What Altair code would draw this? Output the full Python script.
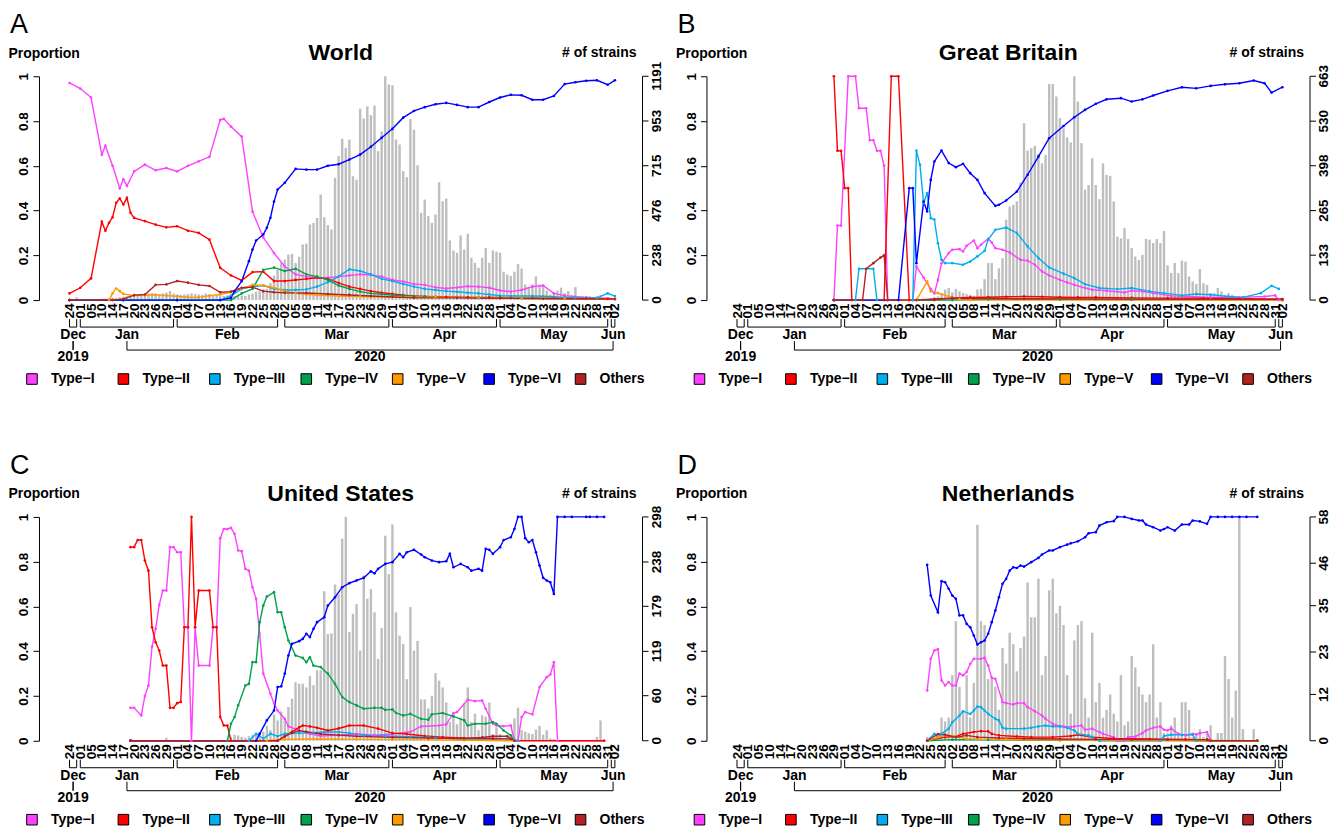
import altair as alt
import pandas as pd

# ---------------- categories, colours, axis labels ----------------
TYPES = ["Type\u2212I", "Type\u2212II", "Type\u2212III", "Type\u2212IV", "Type\u2212V", "Type\u2212VI", "Others"]
COLORS = ["#FF40FF", "#FF0000", "#00AEEF", "#00A14B", "#FF9900", "#0000FF", "#B22222"]
BAR_COLOR = "#BEBEBE"

TICK_IDX = list(range(0, 151, 3)) + [152]
TICK_LAB = ["24",
            "01", "05", "10", "14", "17", "20", "23", "26", "29",
            "01", "04", "07", "10", "13", "16", "19", "22", "25", "28",
            "02", "05", "08", "11", "14", "17", "20", "23", "26", "29",
            "01", "04", "07", "10", "13", "16", "19", "22", "25", "28",
            "01", "04", "07", "10", "13", "16", "19", "22", "25", "28", "31",
            "02"]
MONTHS = ["Dec", "Jan", "Feb", "Mar", "Apr", "May", "Jun"]
MONTH_FIRST = [0, 3, 30, 60, 90, 120, 151]
MONTH_LAST = [2, 29, 58, 89, 119, 150, 152]
YEARS = ["2019", "2020"]
YEAR_FIRST_MONTH = [0, 1]
YEAR_LAST_MONTH = [0, 6]

LETTERS = ["A", "B", "C", "D"]
TITLES = ["World", "Great Britain", "United States", "Netherlands"]
MAX_STRAINS = [1191, 663, 298, 58]

# ---------------- strain counts per day (bars) ----------------
A_BARS = [0, 0, 15, 3, 3, 4, 5, 5, 6, 8,
          8, 10, 12, 12, 15, 18, 20, 25, 30, 32,
          28, 30, 35, 38, 34, 30, 36, 40, 48, 35,
          30, 28, 30, 32, 36, 32, 30, 28, 35, 30,
          25, 28, 24, 22, 25, 20, 22, 20, 25, 22,
          30, 35, 45, 48, 55, 60, 90, 130, 160, 198,
          216, 242, 246, 198, 230, 296, 300, 402, 410, 437,
          562, 441, 399, 376, 650, 766, 858, 810, 854, 659,
          641, 1019, 966, 1031, 984, 1035, 792, 898, 1191, 1147,
          1143, 854, 828, 686, 654, 964, 907, 718, 464, 535,
          447, 411, 455, 627, 526, 540, 317, 264, 252, 344,
          269, 353, 225, 198, 172, 225, 278, 198, 264, 257,
          252, 151, 136, 128, 151, 193, 168, 83, 69, 83,
          126, 83, 74, 51, 30, 37, 51, 66, 37, 48,
          27, 69, 21, 21, 16, 21, 12, 16, 27, 12,
          9, 12, 7]
B_BARS = ([0] * 50 +
          [2, 3, 5, 4, 6, 8, 11, 21, 31, 36,
           23, 33, 26, 21, 18, 16, 13, 31, 33] +
          [62, 110, 110, 62, 94, 124, 238, 277, 282, 292, 348, 524, 443, 450, 457, 433, 405, 430,
           640, 640, 603, 539, 509, 482, 467, 663, 588, 465, 327, 341, 420, 341, 299, 405, 371, 368,
           292, 188, 183, 213, 181, 154, 129, 119, 134, 181, 179, 169, 181, 169, 205, 103, 80, 110,
           80, 117, 114, 70, 55, 48, 92, 50, 45, 21, 21, 36, 26, 16, 21, 16, 11, 8] +
          [5, 5, 8, 5, 3, 5, 3, 3, 2, 3, 2, 5])
C_BARS = [0, 0, 0, 0, 0, 0, 0, 0, 0, 0,
          0, 0, 0, 0, 0, 0, 0, 3, 0, 0,
          0, 0, 0, 0, 0, 0, 0, 4, 0, 0,
          0, 0, 0, 1, 0, 0, 0, 0, 1, 0,
          0, 0, 1, 0, 0, 5, 8, 7, 5, 4,
          6, 8, 10, 11, 12, 20, 14, 35, 27, 39,
          27, 45, 56, 78, 76, 76, 71, 86, 74, 94,
          94, 199, 142, 143, 208, 195, 269, 298, 145, 169,
          182, 120, 220, 189, 202, 171, 109, 150, 273, 222,
          288, 171, 140, 129, 82, 178, 120, 133, 55, 55,
          43, 60, 90, 80, 71, 51, 25, 36, 22, 31,
          50, 71, 25, 36, 14, 34, 32, 51, 9, 18,
          9, 3, 7, 5, 30, 44, 14, 12, 10, 9,
          15, 20, 8, 14, 3, 2, 1, 0, 1, 0,
          1, 0, 0, 1, 0, 0, 0, 5, 27, 0,
          0, 0, 0]
D_BARS = ([0] * 53 +
          [1, 0, 0, 2, 6, 5, 6,
           17, 31, 14, 8, 17, 6, 15, 56, 31, 30,
           16, 16, 14, 8, 24, 20, 28, 25, 18, 24,
           27, 41, 32, 32, 42, 17, 22, 39, 42, 33,
           35, 30, 17, 7, 26, 30, 31, 11, 6, 28,
           10, 15, 6, 8, 12, 7, 5, 17, 4, 5,
           22, 19, 14, 12, 10, 12, 25, 6, 10, 2,
           2, 4, 6, 2, 10, 10, 8, 1, 2, 3,
           1, 2, 4, 0, 2, 2, 22, 16, 6, 13,
           58, 3, 0, 0, 3, 0, 0, 0, 0, 0,
           0, 0, 0])

# ---------------- proportions: (day index, value) ----------------
A_T1 = [(0, .97), (3, .945), (6, .905), (9, .65), (10, .69), (12, .60), (14, .50), (15, .54), (16, .51),
        (18, .575), (21, .605), (24, .58), (27, .59), (30, .575), (33, .60), (36, .62), (39, .64),
        (42, .805), (43, .81), (45, .775), (48, .73), (51, .395), (54, .28), (57, .21), (60, .15),
        (63, .115), (66, .105), (69, .10), (72, .10), (75, .105), (78, .11), (81, .115), (84, .112),
        (87, .105), (90, .09), (93, .083), (96, .072), (99, .068), (102, .057), (105, .052), (108, .056),
        (111, .062), (114, .06), (117, .055), (120, .043), (123, .038), (126, .045), (129, .06),
        (132, .065), (135, .03), (138, .02), (141, .015), (144, .012), (147, .01), (150, .008), (152, .005)]
A_T2 = [(0, .03), (3, .055), (6, .097), (9, .35), (10, .31), (11, .345), (12, .37), (13, .435), (14, .454),
        (15, .427), (16, .457), (17, .39), (18, .367), (21, .353), (24, .337), (27, .325), (30, .33),
        (33, .31), (36, .30), (39, .27), (42, .144), (45, .11), (48, .088), (51, .125), (54, .127),
        (57, .085), (60, .085), (63, .09), (66, .095), (69, .10), (72, .095), (75, .077), (78, .06),
        (81, .05), (84, .04), (87, .033), (90, .028), (93, .022), (96, .018), (99, .016), (102, .015),
        (105, .014), (108, .013), (111, .012), (117, .012), (120, .012), (123, .01), (129, .01),
        (135, .01), (138, .008), (144, .006), (150, .005), (152, .005)]
A_T3 = [(0, 0), (15, 0), (30, 0), (42, 0), (45, .02), (48, .05), (51, .06), (54, .065), (57, .05),
        (60, .045), (63, .045), (66, .048), (69, .06), (72, .08), (75, .105), (78, .138), (81, .13),
        (84, .115), (87, .095), (90, .085), (93, .072), (96, .06), (99, .05), (102, .045), (105, .04),
        (108, .037), (111, .033), (114, .03), (117, .025), (120, .02), (123, .018), (129, .018),
        (132, .017), (135, .015), (138, .012), (141, .01), (147, .01), (150, .03), (152, .018)]
A_T4 = [(0, 0), (15, 0), (30, 0), (45, 0), (48, .03), (51, .05), (54, .135), (57, .145), (60, .13),
        (63, .14), (66, .115), (69, .105), (72, .09), (75, .065), (78, .05), (81, .038), (84, .03),
        (87, .026), (90, .022), (93, .019), (96, .017), (99, .015), (102, .013), (108, .012),
        (114, .011), (120, .01), (126, .009), (132, .008), (138, .007), (144, .006), (152, .005)]
A_T5 = [(0, 0), (11, 0), (12, .03), (13, .052), (14, .04), (15, .028), (18, .02), (21, .022), (24, .024),
        (27, .02), (30, .017), (33, .013), (36, .012), (39, .02), (42, .025), (45, .035), (48, .052),
        (51, .068), (54, .065), (57, .055), (60, .04), (63, .03), (66, .026), (69, .022), (72, .02),
        (75, .018), (78, .017), (81, .016), (84, .015), (90, .014), (102, .013), (108, .012),
        (114, .01), (126, .009), (132, .008), (138, .007), (144, .006), (152, .005)]
A_T6 = [(0, 0), (15, 0), (30, 0), (42, 0), (45, .01), (46, .04), (48, .085), (50, .174), (51, .226),
        (52, .266), (54, .293), (55, .323), (56, .368), (57, .44), (58, .494), (60, .524), (63, .586),
        (66, .583), (69, .583), (72, .60), (75, .607), (78, .628), (81, .65), (84, .685), (87, .725),
        (90, .765), (93, .815), (96, .845), (99, .862), (102, .875), (105, .881), (108, .872),
        (111, .862), (114, .862), (117, .885), (120, .905), (123, .917), (126, .915), (129, .895),
        (132, .895), (135, .912), (138, .965), (141, .973), (144, .98), (147, .982), (150, .962), (152, .982)]
A_T7 = [(0, 0), (12, 0), (15, .005), (18, .022), (21, .025), (24, .068), (27, .07), (30, .085), (33, .078),
        (36, .068), (39, .063), (42, .035), (45, .038), (48, .055), (51, .058), (54, .04), (57, .035),
        (60, .033), (66, .032), (72, .027), (78, .023), (84, .018), (90, .014), (96, .01), (108, .01),
        (120, .008), (132, .006), (144, .006), (152, .005)]

B_T1 = [(27, 0), (28, .333), (29, .333), (31, 1.0), (33, 1.0), (34, .857), (36, .857), (37, .714), (38, .714),
        (39, .667), (40, .667), (41, .6), (42, 0), (49, 0), (50, .15), (52, .10), (54, .05), (55, .03),
        (56, .09), (57, .165), (59, .21), (60, .225), (62, .228), (63, .217), (64, .243), (66, .266),
        (67, .232), (68, .247), (70, .274), (71, .257), (72, .232), (74, .225), (76, .213), (79, .18),
        (81, .176), (83, .158), (85, .128), (87, .11), (90, .09), (92, .079), (94, .068), (97, .054),
        (99, .046), (103, .042), (108, .034), (110, .042), (113, .039), (116, .031), (121, .019),
        (126, .016), (132, .012), (140, .012), (147, .016), (150, .021), (151, 0), (152, 0)]
B_T2 = [(27, 1.0), (28, .667), (29, .667), (30, .5), (31, .5), (32, 0), (41, 0), (43, 1.0), (45, 1.0),
        (48, 0), (55, 0), (60, .01), (65, .012), (70, .013), (75, .015), (80, .016), (85, .015),
        (90, .013), (95, .012), (100, .012), (110, .01), (120, .009), (130, .008), (140, .006), (152, .005)]
B_T3 = [(27, 0), (33, 0), (34, .14), (38, .14), (39, 0), (49, 0), (50, .668), (51, .604), (52, .433),
        (53, .478), (54, .366), (55, .36), (56, .254), (57, .18), (58, .165), (60, .165), (63, .158),
        (65, .172), (67, .195), (69, .22), (70, .27), (72, .314), (75, .324), (78, .3), (81, .24),
        (84, .1875), (87, .146), (91, .118), (94, .098), (97, .071), (101, .054), (106, .049),
        (110, .054), (115, .039), (119, .031), (124, .021), (128, .027), (132, .024), (137, .016),
        (141, .012), (146, .031), (149, .064), (151, .05)]
B_T4 = [(27, 0), (60, 0), (70, .003), (90, .003), (110, .002), (152, 0)]
B_T5 = [(27, 0), (50, 0), (53, .083), (54, .039), (56, .031), (59, .016), (62, .004), (65, 0), (152, 0)]
B_T6 = [(27, 0), (45, 0), (48, .5), (49, .5), (50, .165), (52, .44), (53, .396), (54, .537), (55, .619),
        (57, .668), (59, .612), (61, .594), (63, .609), (65, .567), (67, .537), (69, .478), (72, .421),
        (73, .426), (75, .445), (78, .485), (81, .56), (84, .641), (87, .723), (91, .778), (94, .817),
        (97, .85), (100, .877), (103, .897), (107, .902), (110, .887), (113, .897), (116, .914),
        (120, .935), (124, .951), (128, .946), (132, .957), (136, .964), (140, .969), (144, .981),
        (147, .969), (149, .927), (152, .951)]
B_T7 = [(27, 0), (35, 0), (36, .14), (38, .165), (40, .19), (41, .2), (42, 0), (50, 0), (55, .005),
        (60, .008), (80, .006), (100, .005), (152, .003)]

C_T1 = [(17, .147), (18, .147), (20, .113), (21, .2), (22, .247), (23, .42), (24, .5), (25, .607), (26, .671),
        (27, .671), (28, .865), (29, .865), (30, .842), (31, .842), (32, .507), (33, .507), (34, 0),
        (35, .507), (36, .336), (39, .336), (40, .507), (41, .507), (42, .905), (43, .946), (44, .946),
        (45, .951), (46, .924), (47, .85), (48, .847), (49, .768), (50, .76), (51, .686), (52, .634),
        (53, .478), (54, .3), (56, .21), (57, .165), (58, .135), (60, .098), (61, .064), (64, .046),
        (67, .031), (70, .021), (75, .025), (80, .03), (85, .025), (90, .03), (95, .04), (98, .064),
        (103, .068), (105, .073), (107, .124), (108, .128), (111, .183), (113, .177), (115, .18),
        (116, .143), (118, .076), (119, .068), (121, .065), (123, .068), (124, 0), (125, 0), (126, .106),
        (127, .128), (129, .118), (131, .24), (133, .284), (134, .296), (135, .351), (136, 0), (149, 0)]
C_T2 = [(17, .865), (18, .865), (19, .897), (20, .897), (21, .805), (22, .76), (23, .507), (24, .44),
        (25, .403), (26, .336), (27, .336), (28, .147), (29, .147), (30, .168), (31, .173), (32, .507),
        (33, .507), (34, 1.0), (35, .507), (36, .671), (39, .671), (40, .507), (41, .507), (42, .106),
        (43, .068), (44, .068), (45, 0), (58, 0), (60, .02), (62, .04), (64, .06), (65, .068), (67, .064),
        (69, .058), (72, .046), (75, .055), (78, .068), (82, .068), (86, .054), (90, .034), (94, .03),
        (99, .021), (104, .016), (110, .012), (118, .01), (123, .008), (124, 0), (149, 0)]
C_T3 = [(17, 0), (50, 0), (52, .031), (54, .01), (56, .031), (58, .02), (60, .031), (64, .034), (68, .036),
        (71, .039), (75, .039), (78, .034), (82, .024), (88, .021), (95, .018), (100, .016), (102, .013),
        (110, .006), (124, .004), (125, 0)]
C_T4 = [(17, 0), (44, 0), (45, .076), (46, .106), (47, .158), (49, .247), (50, .254), (51, .351), (52, .351),
        (53, .53), (54, .604), (55, .644), (57, .664), (58, .574), (59, .574), (60, .507), (61, .448),
        (63, .381), (65, .37), (66, .351), (67, .373), (68, .336), (70, .329), (72, .3), (74, .254),
        (76, .195), (78, .173), (80, .158), (82, .143), (85, .147), (87, .147), (88, .138), (90, .14),
        (91, .124), (93, .113), (95, .12), (98, .098), (100, .094), (101, .118), (104, .124), (107, .109),
        (110, .091), (111, .068), (113, .076), (116, .076), (118, .083), (119, .076), (121, .046),
        (123, .024), (124, 0)]
C_T5 = [(17, 0), (55, 0), (60, .006), (70, .008), (80, .006), (90, .005), (100, .004), (110, .002), (124, 0)]
C_T6 = [(17, 0), (52, 0), (53, .031), (55, .091), (57, .135), (58, .24), (59, .243), (60, .3), (61, .381),
        (62, .433), (64, .445), (65, .455), (66, .478), (67, .463), (68, .5), (69, .53), (71, .552),
        (72, .604), (74, .641), (76, .686), (78, .704), (80, .716), (82, .728), (84, .757), (85, .748),
        (86, .768), (88, .79), (90, .798), (92, .835), (93, .82), (94, .842), (96, .853), (98, .832),
        (99, .82), (101, .805), (103, .798), (105, .802), (106, .835), (107, .775), (109, .79), (111, .775),
        (112, .76), (114, .768), (115, .76), (116, .857), (117, .853), (118, .835), (120, .865), (121, .897),
        (123, .909), (124, .946), (125, 1.0), (126, 1.0), (127, .905), (128, .887), (129, .897), (130, .842),
        (131, .783), (132, .728), (133, .716), (134, .708), (135, .656), (136, 1.0), (138, 1.0), (140, 1.0),
        (144, 1.0), (145, 1.0), (147, 1.0), (149, 1.0)]
C_T7 = [(17, 0), (58, 0), (60, .02), (62, .035), (64, .045), (66, .04), (70, .03), (75, .025), (80, .02),
        (90, .015), (100, .012), (110, .01), (115, .015), (118, .02), (122, .02), (124, 0)]

D_T1 = [(53, .225), (54, .366), (55, .403), (56, .41), (57, .27), (58, .247), (59, .262), (60, .247), (61, .247),
        (62, .3), (63, .292), (64, .307), (65, .344), (66, .366), (68, .366), (69, .37), (70, .336), (71, .281),
        (72, .277), (74, .173), (75, .168), (77, .162), (78, .168), (80, .168), (81, .15), (83, .132),
        (85, .113), (86, .098), (88, .076), (89, .068), (91, .064), (93, .061), (94, .064), (96, .068),
        (97, .049), (99, .054), (101, .039), (102, .031), (105, .016), (106, 0), (108, 0), (109, .016),
        (111, .019), (113, .034), (114, .046), (116, .058), (118, .064), (119, .049), (120, .046),
        (121, .054), (123, .031), (125, .024), (127, .031), (128, .028), (129, .034), (131, .039),
        (132, 0), (145, 0)]
D_T2 = [(53, 0), (58, .016), (61, .019), (63, .031), (66, .039), (68, .043), (70, .042), (71, .031), (73, .024),
        (78, .019), (82, .016), (88, .016), (93, .021), (95, .027), (99, .016), (105, .01), (115, .008),
        (125, .006), (131, .005), (132, 0), (145, 0)]
D_T3 = [(53, 0), (55, .031), (56, .016), (57, .031), (59, .054), (60, .083), (62, .113), (63, .132), (65, .12),
        (66, .135), (67, .153), (68, .15), (69, .135), (70, .12), (72, .098), (73, .091), (74, .058),
        (75, .054), (80, .054), (82, .058), (84, .064), (86, .068), (88, .064), (90, .064), (92, .058),
        (94, .046), (95, .031), (98, .024), (99, .016), (101, 0), (118, 0), (119, .021), (121, .027),
        (124, .027), (127, .027), (128, 0), (145, 0)]
D_T4 = [(53, 0), (60, .005), (70, .004), (90, .002), (145, 0)]
D_T5 = [(53, 0), (56, .016), (58, .024), (61, .02), (64, .009), (68, .006), (75, .005), (90, .003),
        (110, .002), (132, 0), (145, 0)]
D_T6 = [(53, .786), (54, .649), (56, .574), (57, .713), (58, .708), (59, .679), (60, .649), (61, .634), (62, .56),
        (63, .56), (64, .522), (65, .507), (66, .47), (67, .43), (68, .44), (69, .448), (70, .478), (71, .53),
        (72, .582), (73, .641), (74, .701), (75, .723), (76, .76), (77, .775), (78, .772), (79, .783),
        (80, .778), (82, .798), (84, .817), (85, .832), (87, .85), (88, .85), (90, .865), (92, .876),
        (93, .882), (95, .891), (97, .909), (98, .927), (100, .932), (101, .961), (103, .976), (105, .981),
        (106, 1.0), (108, 1.0), (110, .991), (112, .984), (113, .984), (114, .966), (116, .954), (118, .939),
        (119, .946), (120, .954), (122, .939), (124, .966), (126, .966), (127, .984), (129, .98), (131, .969),
        (132, 1.0), (134, 1.0), (136, 1.0), (138, 1.0), (140, 1.0), (142, 1.0), (145, 1.0)]
D_T7 = [(53, 0), (56, .03), (58, .027), (61, .016), (64, .024), (67, .016), (73, .012), (80, .01), (90, .008),
        (100, .006), (110, .005), (120, .005), (131, .004), (132, 0), (145, 0)]

SERIES = [[A_T1, A_T2, A_T3, A_T4, A_T5, A_T6, A_T7],
          [B_T1, B_T2, B_T3, B_T4, B_T5, B_T6, B_T7],
          [C_T1, C_T2, C_T3, C_T4, C_T5, C_T6, C_T7],
          [D_T1, D_T2, D_T3, D_T4, D_T5, D_T6, D_T7]]
BARS = [A_BARS, B_BARS, C_BARS, D_BARS]

# ---------------- layout ----------------
W, H = 604, 224
XDOM = [-7.12, 158.31]
FONT = "Liberation Sans"

lab_expr = " : ".join("datum.value == %d ? '%s'" % (i, l) for i, l in zip(TICK_IDX, TICK_LAB)) + " : ''"
XSCALE = alt.Scale(domain=XDOM, nice=False, zero=False)
XAXIS = alt.Axis(values=TICK_IDX, labelExpr=lab_expr, ticks=False, domain=False, grid=False,
                 labelAngle=270, labelAlign="right", labelBaseline="middle", labelPadding=3,
                 labelFontSize=13.5, labelFontWeight="bold", labelColor="black",
                 labelOverlap=False, labelFlush=False, title=None)


def X(field):
    return alt.X(field, type="quantitative", scale=XSCALE, axis=XAXIS)


color_scale = alt.Scale(domain=TYPES, range=COLORS)


def panel(k):
    mx = MAX_STRAINS[k]
    rticks = [int(round(mx * j / 5.0)) for j in range(6)]
    ys = alt.Scale(domain=[0, mx], nice=False, zero=True)

    def YR(field):
        return alt.Y(field, type="quantitative", scale=ys, axis=None)

    bar_df = pd.DataFrame({"idx": list(range(len(BARS[k]))), "n": BARS[k]})
    bars = alt.Chart(bar_df).mark_bar(color=BAR_COLOR, size=2.4).encode(x=X("idx"), y=YR("n"))
    # right-hand count axis drawn from the count scale
    rdf = pd.DataFrame({"n": rticks, "lab": [str(v) for v in rticks]})
    ddf = pd.DataFrame({"n": [0], "n2": [mx]})
    r_dom = alt.Chart(ddf).mark_rule(color="black", strokeWidth=1).encode(
        x=alt.value(W), y=YR("n"), y2="n2")
    r_tick = alt.Chart(rdf).mark_rule(color="black", strokeWidth=1).encode(
        x=alt.value(W), x2=alt.value(W + 6), y=YR("n"))
    r_lab = alt.Chart(rdf).mark_text(angle=270, align="center", baseline="top", fontSize=13.5,
                                     fontWeight="bold", color="black").encode(
        x=alt.value(W + 7), y=YR("n"), text="lab:N")
    count_layer = alt.layer(bars, r_dom, r_tick, r_lab)

    rows = []
    for t, pts in zip(TYPES, SERIES[k]):
        for i, v in pts:
            rows.append({"type": t, "idx": i, "v": v})
    line_df = pd.DataFrame(rows)
    lines = alt.Chart(line_df).mark_line(
        strokeWidth=1.4, point=alt.OverlayMarkDef(filled=True, size=7, opacity=1)).encode(
        x=X("idx"),
        y=alt.Y("v:Q", scale=alt.Scale(domain=[0, 1], nice=False),
                axis=alt.Axis(orient="left", values=[0, 0.2, 0.4, 0.6, 0.8, 1],
                              labelExpr="datum.value == 0 ? '0' : datum.value == 1 ? '1' : format(datum.value, '.1f')",
                              grid=False, labelAngle=270, labelAlign="center", labelBaseline="alphabetic",
                              labelPadding=5, tickSize=6, labelFontSize=13.5, labelFontWeight="bold",
                              labelColor="black", domainColor="black", tickColor="black", labelFlush=False,
                              title="Proportion", titleAngle=0, titleAlign="left", titleBaseline="middle",
                              titleX=-31, titleY=-23, titleFontSize=14, titleFontWeight="bold",
                              titleColor="black")),
        color=alt.Color("type:N", scale=color_scale, legend=None),
        order=alt.Order("idx:Q"))

    mdf = pd.DataFrame({"name": MONTHS, "first": MONTH_FIRST, "last": MONTH_LAST})
    mdf["mid"] = (mdf["first"] + mdf["last"]) / 2.0
    mb = alt.Chart(mdf)
    m_h = mb.mark_rule(color="black", strokeWidth=1).encode(x=X("first"), x2="last", y=alt.value(H + 27))
    m_l = mb.mark_rule(color="black", strokeWidth=1).encode(x=X("first"), y=alt.value(H + 19), y2=alt.value(H + 27))
    m_r = mb.mark_rule(color="black", strokeWidth=1).encode(x=X("last"), y=alt.value(H + 19), y2=alt.value(H + 27))
    m_t = mb.mark_text(fontSize=14, fontWeight="bold", baseline="middle", color="black").encode(
        x=X("mid"), y=alt.value(H + 35), text="name:N")

    mids = list(mdf["mid"])
    ydf = pd.DataFrame({"name": YEARS,
                        "a": [mids[i] for i in YEAR_FIRST_MONTH],
                        "b": [mids[i] for i in YEAR_LAST_MONTH]})
    ydf["c"] = (ydf["a"] + ydf["b"]) / 2.0
    yb = alt.Chart(ydf)
    y_h = yb.mark_rule(color="black", strokeWidth=1).encode(x=X("a"), x2="b", y=alt.value(H + 50))
    y_l = yb.mark_rule(color="black", strokeWidth=1).encode(x=X("a"), y=alt.value(H + 41), y2=alt.value(H + 50))
    y_r = yb.mark_rule(color="black", strokeWidth=1).encode(x=X("b"), y=alt.value(H + 41), y2=alt.value(H + 50))
    y_t = yb.mark_text(fontSize=14, fontWeight="bold", baseline="middle", color="black").encode(
        x=X("c"), y=alt.value(H + 57), text="name:N")

    tdf = pd.DataFrame({"letter": [LETTERS[k]], "title": [TITLES[k]], "unit": ["# of strains"]})
    letter = alt.Chart(tdf).mark_text(align="left", baseline="top", fontSize=27, color="black").encode(
        x=alt.value(-29), y=alt.value(-64), text="letter:N")
    title = alt.Chart(tdf).mark_text(align="center", baseline="middle", fontSize=23, fontWeight="bold",
                                     color="black").encode(
        x=alt.value(W / 2), y=alt.value(-23), text="title:N")
    unit = alt.Chart(tdf).mark_text(align="right", baseline="middle", fontSize=14, fontWeight="bold",
                                    color="black").encode(
        x=alt.value(W - 6), y=alt.value(-23), text="unit:N")

    inner = alt.layer(count_layer, lines, m_h, m_l, m_r, m_t, y_h, y_l, y_r, y_t,
                      letter, title, unit).resolve_scale(y="independent")

    ldf = pd.DataFrame({"type": TYPES})
    lx = alt.X("type:N", scale=alt.Scale(domain=TYPES, range=[-7, 542], padding=0), axis=None)
    leg_sq = alt.Chart(ldf).mark_square(size=112, filled=True, stroke="black", strokeWidth=1, opacity=1).encode(
        x=lx, y=alt.value(H + 79), color=alt.Color("type:N", scale=color_scale, legend=None))
    leg_tx = alt.Chart(ldf).mark_text(align="left", dx=19, baseline="middle", fontSize=14, fontWeight="bold",
                                      color="black").encode(
        x=lx, y=alt.value(H + 79), text="type:N")

    return alt.layer(inner, leg_sq, leg_tx).resolve_scale(x="independent").properties(width=W, height=H)


chart = alt.concat(panel(0), panel(1), panel(2), panel(3), columns=2,
                   spacing=alt.RowColnumber(row=217, column=64), bounds="flush").properties(
    padding={"top": 3, "left": 0, "right": 0, "bottom": 0}).configure(font=FONT).configure_view(stroke=None)

chart.save("out.html", embed_options={"renderer": "svg", "actions": False})
